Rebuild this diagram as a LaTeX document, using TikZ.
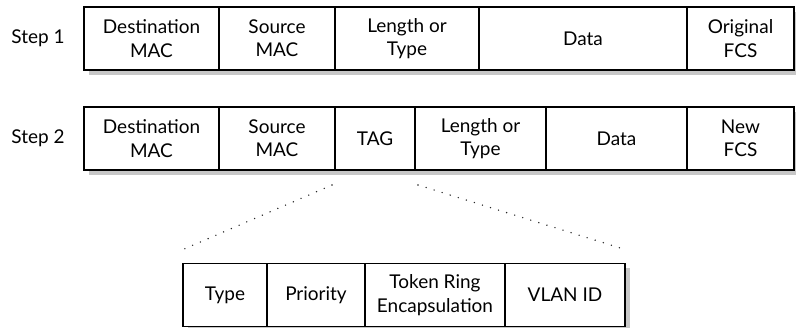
\documentclass[tikz,border=0pt]{standalone}
\usepackage{fontspec}
\setmainfont{Lato}
\usetikzlibrary{shadows}

\begin{document}
\begin{tikzpicture}[
    x=0.025cm, y=-0.025cm,
    every node/.style={font=\fontsize{13.5}{16.6}\selectfont},
    cell/.style={rectangle, draw, fill=white, line width=0.9pt, align=center,
                 minimum width=#1*0.025cm, minimum height=1.575cm,
                 inner sep=0pt, outer sep=0pt,
                 drop shadow={shadow xshift=0.12cm, shadow yshift=-0.12cm,
                              fill=black!22, opacity=1}},
    stp/.style={inner sep=0pt},
    dotln/.style={line width=1.1pt, line cap=round,
                  dash pattern=on 0pt off 6pt, black!85},
  ]
  \useasboundingbox (0,0) rectangle (796,328);
  % step 1
  \node[stp] (s1) at (38, 38.5) {Step 1};
  \node[cell=135] (dst1) at (151.5, 38.5) {Destination\\MAC};
  \node[cell=116] (src1) at (277, 38.5) {Source\\MAC};
  \node[cell=144] (len1) at (407, 38.5) {Length or\\Type};
  \node[cell=208] (dat1) at (583, 38.5) {Data};
  \node[cell=107] (fcs1) at (740.5, 38.5) {Original\\FCS};
  % step 2
  \node[stp] (s2) at (38, 138.5) {Step 2};
  \node[cell=135] (dst2) at (151.5, 138.5) {Destination\\MAC};
  \node[cell=116] (src2) at (277, 138.5) {Source\\MAC};
  \node[cell=80] (tag2) at (375, 138.5) {TAG};
  \node[cell=131] (len2) at (480.5, 138.5) {Length or\\Type};
  \node[cell=141] (dat2) at (616.5, 138.5) {Data};
  \node[cell=107] (fcs2) at (740.5, 138.5) {New\\FCS};
  % tag fields
  \node[cell=84] (typ) at (225, 295) {Type};
  \node[cell=98] (pri) at (316, 295) {Priority};
  \node[cell=140] (trg) at (435, 295) {Token Ring\\Encapsulation};
  \node[cell=120] (vid) at (565, 295) {VLAN ID};
  \coordinate (zl) at ([shift={(-3,15)}]tag2.south west);
  \coordinate (zr) at ([shift={(3,15)}]tag2.south east);
  \coordinate (bl) at ([shift={(0,-14)}]typ.north west);
  \coordinate (br) at ([shift={(0,-14)}]vid.north east);
  \draw[dotln] (zl) -- (bl);
  \draw[dotln] (zr) -- (br);
\end{tikzpicture}
\end{document}
